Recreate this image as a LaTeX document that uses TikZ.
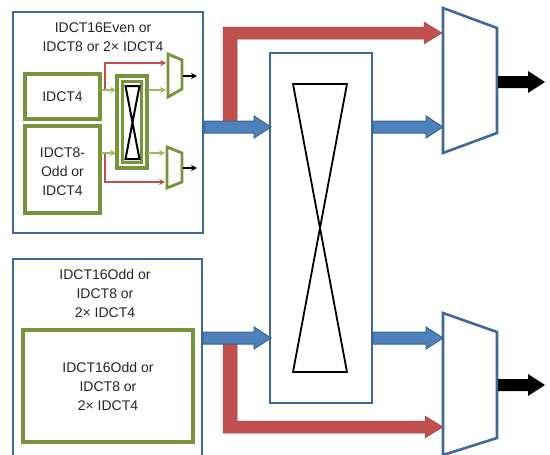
\documentclass[tikz,border=0pt]{standalone}
\usepackage{fontspec}
\setmainfont{Liberation Sans}
\usetikzlibrary{arrows.meta}
\definecolor{boxblue}{HTML}{41689B}
\definecolor{arrblue}{HTML}{4F81BD}
\definecolor{arrblueedge}{HTML}{3A6496}
\definecolor{myred}{HTML}{C0504D}
\definecolor{dgreen}{HTML}{77933C}
\definecolor{lgreen}{HTML}{9BBB59}
\tikzset{
  bluebox/.style={draw=boxblue, line width=2.8pt, fill=white},
  greenbox/.style={draw=dgreen, line width=3.2pt, fill=white},
  lbl/.style={font=\fontsize{14}{19}\selectfont, align=center, text=black!85},
  bigarrow/.style={fill=arrblue, draw=arrblueedge, line width=1pt},
  redarrow/.style={fill=myred, draw=myred!90!black, line width=0.5pt},
  blkarrow/.style={fill=black},
  garrow/.style={draw=lgreen, line width=1.6pt, -{Stealth[length=6pt,width=6pt]}},
  rarrow/.style={draw=myred, line width=1.4pt, -{Stealth[length=6pt,width=6pt]}},
  karrow/.style={draw=black, line width=1.5pt, -{Stealth[length=6pt,width=6pt]}},
  bowtie/.style={draw=black, line width=2pt},
  bigbowtie/.style={draw=black, line width=1.8pt},
  smux/.style={draw=dgreen, line width=2.8pt, fill=white},
  bmux/.style={draw=boxblue, line width=2.6pt, fill=white},
}
% block arrow: #1 style, #2 start x, #3 centre y, #4 tip x
\newcommand{\blockarr}[4]{%
  \path[#1] (#2,#3-6) -- (#4-17,#3-6) -- (#4-17,#3-11) -- (#4,#3) -- (#4-17,#3+11) -- (#4-17,#3+6) -- (#2,#3+6) -- cycle;}
\begin{document}
\begin{tikzpicture}[x=1pt,y=-1pt]
\useasboundingbox (0,0) rectangle (550,455);
\clip (0,0) rectangle (550,455);
\fill[white] (0,0) rectangle (550,455);

% left blocks
\draw[bluebox] (13,12) rectangle (203,233);
\node (topbox) at (108,122) {};
\node[lbl] (toptitle) at (103,37) {IDCT16Even or\\IDCT8 or 2× IDCT4};

\draw[bluebox] (13,259) rectangle (202,470);
\node (botbox) at (108,360) {};
\node[lbl] (bottitle) at (105,293.5) {IDCT16Odd or\\IDCT8 or\\2× IDCT4};

% small inner blocks
\draw[greenbox] (25,74) rectangle (100,119);
\node[lbl] (idctfour) at (62.5,96.5) {IDCT4};
\draw[greenbox] (25,126) rectangle (100,213);
\node[lbl] (idcteight) at (62.5,172) {IDCT8-\\Odd or\\IDCT4};

\draw[greenbox] (117,76) rectangle (147,168);
\draw[draw=dgreen, line width=2.6pt] (122.5,81.5) rectangle (141.5,162.5);
\node (smallx) at (132,122) {};
\draw[bowtie] (125.5,86) -- (139.5,86) -- (125.5,159) -- (139.5,159) -- cycle;

\draw[greenbox] (23,330) rectangle (193,442);
\node[lbl] (inner) at (108,386) {IDCT16Odd or\\IDCT8 or\\2× IDCT4};

% small muxes
\draw[smux] (168,54) -- (182,60) -- (182,89) -- (168,97) -- cycle;
\draw[smux] (167,147) -- (182,153) -- (182,182) -- (167,188) -- cycle;

% small arrows
\draw[rarrow] (105,90) -- (105,63) -- (166,63);
\draw[garrow] (101,90) -- (116,90);
\draw[garrow] (148,90) -- (166,90);
\draw[rarrow] (105,153) -- (105,182) -- (165,182);
\draw[garrow] (101,153) -- (116,153);
\draw[garrow] (148,153) -- (165,153);
\draw[karrow] (183,76) -- (197,76);
\draw[karrow] (183,168) -- (197,168);

% big crossbar
\draw[bluebox] (270,53) rectangle (372,403);
\node (bigx) at (321,228) {};
\draw[bigbowtie] (293,84) -- (347,84) -- (293,372) -- (347,372) -- cycle;

% big muxes
\draw[bmux] (443,8) -- (497,28) -- (497,133) -- (443,153) -- cycle;
\draw[bmux] (443,313) -- (497,332) -- (497,438) -- (443,455) -- cycle;

% red thick L arrows
\path[redarrow] (223,127) -- (223,27) -- (424,27) -- (424,22) -- (442,33) -- (424,44) -- (424,39) -- (237,39) -- (237,127) -- cycle;
\path[redarrow] (223,338) -- (223,433) -- (425,433) -- (425,438) -- (443,427) -- (425,416) -- (425,421) -- (237,421) -- (237,338) -- cycle;

% blue thick arrows
\blockarr{bigarrow}{204}{127}{271}
\blockarr{bigarrow}{373}{127}{443}
\blockarr{bigarrow}{203}{338}{271}
\blockarr{bigarrow}{373}{338}{443}

% output arrows
\blockarr{blkarrow}{498}{82}{545}
\blockarr{blkarrow}{498}{385}{545}
\end{tikzpicture}
\end{document}
